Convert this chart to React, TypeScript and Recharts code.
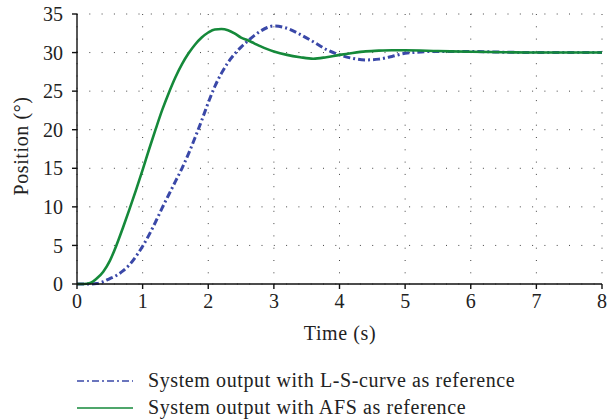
import { CartesianGrid, Line, LineChart, XAxis, YAxis } from "recharts";

const timeSeconds = [
  0, 0.1, 0.2, 0.3, 0.4, 0.5, 0.6, 0.7, 0.8, 0.9, 1.0, 1.1, 1.2, 1.3, 1.4, 1.5,
  1.6, 1.7, 1.8, 1.9, 2.0, 2.1, 2.2, 2.3, 2.4, 2.5, 2.6, 2.7, 2.8, 2.9, 3.0,
  3.2, 3.4, 3.6, 3.8, 4.0, 4.2, 4.4, 4.6, 4.8, 5.0, 5.5, 6.0, 6.5, 7.0, 7.5, 8.0,
];

const afsOutput = [
  0, 0, 0.12, 0.7, 1.6, 3.0, 5.0, 7.3, 9.7, 12.2, 14.8, 17.5, 20.1, 22.6, 24.8, 26.8,
  28.5, 29.9, 31.05, 31.95, 32.6, 33.0, 33.05, 32.9, 32.5, 31.95, 31.6, 31.2, 30.8, 30.45, 30.15,
  29.7, 29.4, 29.2, 29.4, 29.7, 29.95, 30.15, 30.25, 30.3, 30.3, 30.2, 30.1, 30.05, 30.0, 30.0, 30.0,
];

const lsCurveOutput = [
  0, 0, 0, 0.05, 0.3, 0.7, 1.1, 1.7, 2.5, 3.6, 4.9, 6.4, 8.1, 9.9, 11.6, 13.3,
  15.0, 16.9, 19.0, 21.2, 23.5, 25.6, 27.3, 28.7, 29.8, 30.7, 31.5, 32.2, 32.8, 33.25, 33.45,
  33.15, 32.35, 31.4, 30.4, 29.7, 29.25, 29.05, 29.15, 29.5, 29.9, 30.15, 30.15, 30.05, 30.0, 30.0, 30.0,
];

const xTicks = [0, 1, 2, 3, 4, 5, 6, 7, 8];
const yTicks = [0, 5, 10, 15, 20, 25, 30, 35];

const legendItems = [
  { label: "System output with L-S-curve as reference", color: "#3a48a8", dash: "7 3 2 3" },
  { label: "System output with AFS as reference", color: "#15893a", dash: "" },
];

const font = "'Liberation Serif', 'Times New Roman', serif";

const data = timeSeconds.map((t, i) => ({
  t,
  ls: lsCurveOutput[i],
  afs: afsOutput[i],
}));

export default function App() {
  const tickStyle = { fill: "#222", fontSize: 20, fontFamily: font };

  return (
    <div
      style={{
        position: "absolute",
        left: 0,
        top: 0,
        width: 611,
        height: 420,
        background: "#fff",
        fontFamily: font,
      }}
    >
      <LineChart width={611} height={350} data={data} margin={{ top: 14, right: 9, bottom: 0, left: 0 }}>
        <CartesianGrid stroke="#444" strokeDasharray="1 11.3" strokeWidth={1} />
        <XAxis
          dataKey="t"
          type="number"
          domain={[0, 8]}
          ticks={xTicks}
          height={66}
          stroke="#111"
          strokeWidth={1.4}
          tickSize={5}
          tickMargin={5}
          tick={tickStyle}
          label={{
            content: () => (
              <text x={340} y={340} textAnchor="middle" fontSize={20} fontFamily={font} fill="#222" letterSpacing={0.6}>
                Time (s)
              </text>
            ),
          }}
        />
        <XAxis
          xAxisId="top"
          dataKey="t"
          type="number"
          orientation="top"
          domain={[0, 8]}
          ticks={xTicks}
          height={0}
          stroke="#111"
          strokeWidth={1.4}
          tickSize={-4}
          tick={false}
        />
        <YAxis
          type="number"
          domain={[0, 35]}
          ticks={yTicks}
          width={77}
          stroke="#111"
          strokeWidth={1.4}
          tickSize={5}
          tickMargin={9}
          tick={tickStyle}
          label={{
            content: () => (
              <text
                x={28}
                y={146}
                textAnchor="middle"
                fontSize={20}
                fontFamily={font}
                fill="#222"
                letterSpacing={0.6}
                transform="rotate(-90 28 146)"
              >
                Position (°)
              </text>
            ),
          }}
        />
        <YAxis
          yAxisId="right"
          type="number"
          orientation="right"
          domain={[0, 35]}
          ticks={yTicks}
          width={0}
          stroke="#111"
          strokeWidth={1.4}
          tickSize={-4}
          tick={false}
        />
        <Line
          type="monotone"
          dataKey="ls"
          stroke="#3a48a8"
          strokeWidth={3}
          strokeDasharray="7 3 2 3"
          dot={false}
          isAnimationActive={false}
        />
        <Line
          type="monotone"
          dataKey="afs"
          stroke="#15893a"
          strokeWidth={2.6}
          dot={false}
          isAnimationActive={false}
        />
      </LineChart>

      <div style={{ position: "absolute", left: 77, top: 367, fontSize: 20, color: "#222", letterSpacing: 0.6 }}>
        {legendItems.map((item) => (
          <div key={item.label} style={{ display: "flex", alignItems: "center", height: 27 }}>
            <svg width={56} height={6} style={{ marginRight: 15 }}>
              <line
                x1={0}
                y1={3}
                x2={56}
                y2={3}
                stroke={item.color}
                strokeWidth={1.5}
                strokeDasharray={item.dash || undefined}
              />
            </svg>
            <span>{item.label}</span>
          </div>
        ))}
      </div>
    </div>
  );
}
